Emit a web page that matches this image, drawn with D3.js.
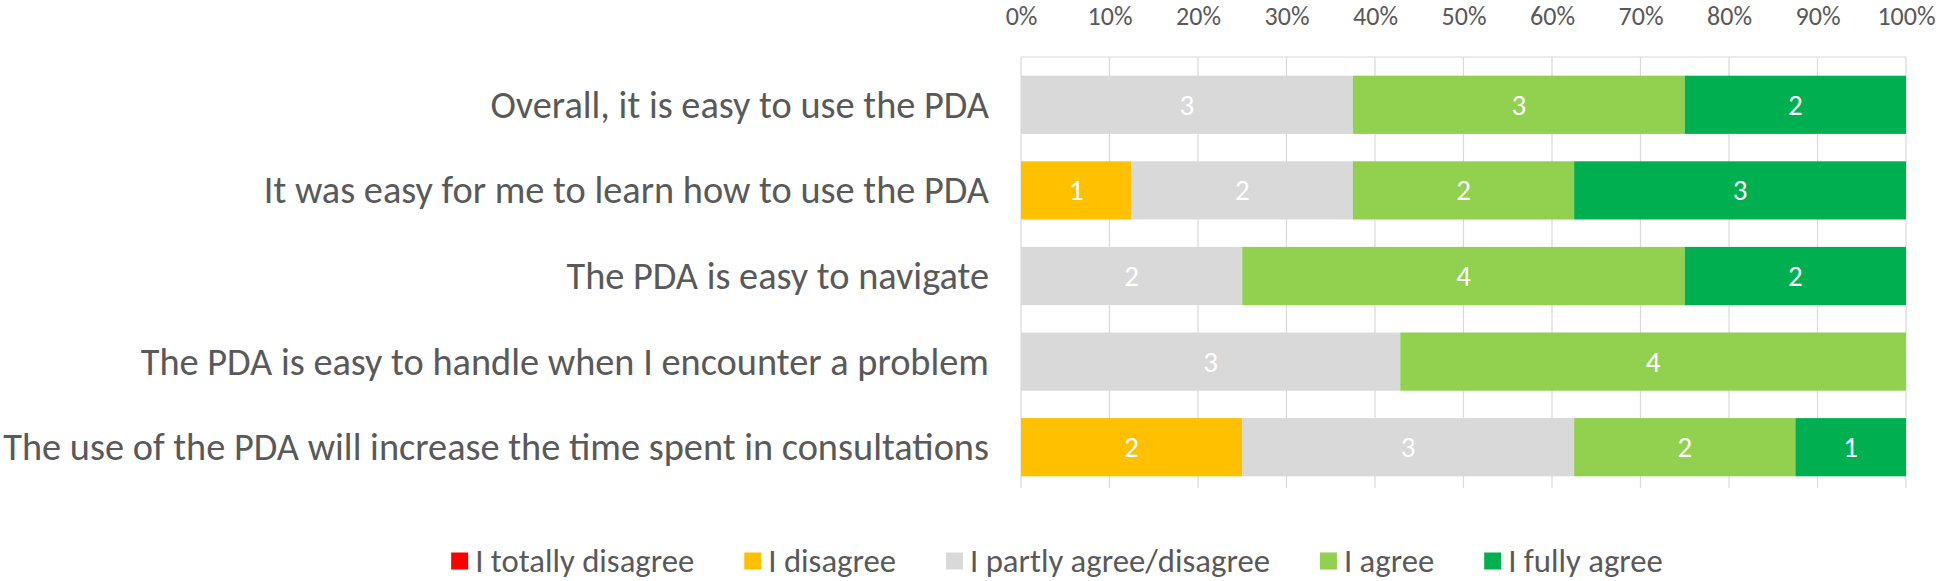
<!DOCTYPE html>
<html>
<head>
<meta charset="utf-8">
<script src="https://cdn.jsdelivr.net/npm/d3@7"></script>
<style>
  html, body { margin: 0; padding: 0; background: #fff; }
  svg { display: block; }
  text { font-family: Carlito, Calibri, Lato, "Open Sans", sans-serif; fill: #595959; }
</style>
</head>
<body>
<svg id="chart" width="1946" height="581"></svg>
<script>
// ---- data ----
const categories = [
  "Overall, it is easy to use the PDA",
  "It was easy for me to learn how to use the PDA",
  "The PDA is easy to navigate",
  "The PDA is easy to handle when I encounter a problem",
  "The use of the PDA will increase the time spent in consultations"
];
const seriesNames = ["I totally disagree", "I disagree", "I partly agree/disagree", "I agree", "I fully agree"];
const seriesColors = ["#FF0000", "#FFC000", "#D9D9D9", "#92D050", "#00B050"];
const totallyDisagree = [0, 0, 0, 0, 0];
const disagree        = [0, 1, 0, 0, 2];
const partlyAgree     = [3, 2, 2, 3, 3];
const agree           = [3, 2, 4, 4, 2];
const fullyAgree      = [2, 3, 2, 0, 1];
const tickValues = [0, 0.1, 0.2, 0.3, 0.4, 0.5, 0.6, 0.7, 0.8, 0.9, 1.0];

const seriesValues = [totallyDisagree, disagree, partlyAgree, agree, fullyAgree];

// ---- layout ----
const svg = d3.select("#chart");
const plot = { left: 1021, right: 1906, top: 57, bottom: 488 };

const x = d3.scaleLinear().domain([0, 1]).range([plot.left, plot.right]);
const y = d3.scaleBand().domain(categories).range([62, 490]).paddingInner(0.32).paddingOuter(0.16);

function fitFont(sel, baseSize, targetWidth) {
  sel.style("font-size", baseSize + "px");
  let maxW = 0;
  sel.each(function () { maxW = Math.max(maxW, this.getComputedTextLength()); });
  const s = baseSize * targetWidth / maxW;
  sel.style("font-size", s + "px");
  return s;
}

const rows = categories.map((c, i) => {
  const r = { category: c };
  seriesNames.forEach((s, k) => r[s] = seriesValues[k][i]);
  return r;
});
const stacked = d3.stack().keys(seriesNames).offset(d3.stackOffsetExpand)(rows);

// gridlines & frame
svg.append("g").selectAll("line").data(tickValues).join("line")
  .attr("x1", d => x(d)).attr("x2", d => x(d))
  .attr("y1", plot.top).attr("y2", plot.bottom)
  .attr("stroke", "#D9D9D9").attr("stroke-width", 1.2);
svg.append("line").attr("x1", plot.left).attr("x2", plot.right)
  .attr("y1", plot.top).attr("y2", plot.top).attr("stroke", "#D9D9D9").attr("stroke-width", 1.2);

// top axis
const axis = d3.axisTop(x).tickValues(tickValues).tickFormat(d3.format(".0%")).tickSize(0);
const axG = svg.append("g").attr("transform", "translate(0,28)").call(axis);
axG.select(".domain").remove();
axG.selectAll("text").attr("dy", 0).attr("fill", "#595959")
  .style("font-family", null).style("font-size", "26px");

// bars
const layers = svg.append("g").selectAll("g").data(stacked).join("g")
  .attr("fill", (d, i) => seriesColors[i]);
layers.selectAll("rect").data(d => d).join("rect")
  .attr("x", p => x(p[0]))
  .attr("width", p => x(p[1]) - x(p[0]))
  .attr("y", p => y(p.data.category))
  .attr("height", y.bandwidth());

// value labels
const valueLabels = [];
stacked.forEach((layer, k) => {
  layer.forEach(p => {
    const v = p.data[seriesNames[k]];
    if (v > 0) valueLabels.push({ v, mid: (p[0] + p[1]) / 2, cat: p.data.category });
  });
});
svg.append("g").selectAll("text").data(valueLabels).join("text")
  .attr("x", d => x(d.mid))
  .attr("y", d => y(d.cat) + y.bandwidth() / 2)
  .attr("text-anchor", "middle")
  .attr("dominant-baseline", "central")
  .style("fill", "#FFFFFF")
  .style("font-size", "29px")
  .text(d => d.v);

// category labels
const catText = svg.append("g").selectAll("text").data(categories).join("text")
  .attr("x", 989)
  .attr("y", d => y(d) + y.bandwidth() / 2)
  .attr("text-anchor", "end")
  .attr("dominant-baseline", "central")
  .text(d => d);
fitFont(catText, 30, 986);

// legend
const legG = svg.append("g");
const items = legG.selectAll("g").data(seriesNames).join("g");
items.append("rect").attr("width", 17).attr("height", 17).attr("y", -8.5)
  .attr("fill", (d, i) => seriesColors[i]);
const legText = items.append("text").attr("x", 24).attr("dominant-baseline", "central").text(d => d);
legText.style("font-size", "26px");
const refW = legText.filter(d => d === "I partly agree/disagree").node().getComputedTextLength();
legText.style("font-size", (26 * 300 / refW) + "px");
let cx = 0;
const positions = [];
legText.each(function () {
  positions.push(cx);
  cx += 24 + this.getComputedTextLength() + 50;
});
const totalW = cx - 50;
const legStart = 1057 - totalW / 2;
items.attr("transform", (d, i) => `translate(${legStart + positions[i]},561)`);
</script>
</body>
</html>
